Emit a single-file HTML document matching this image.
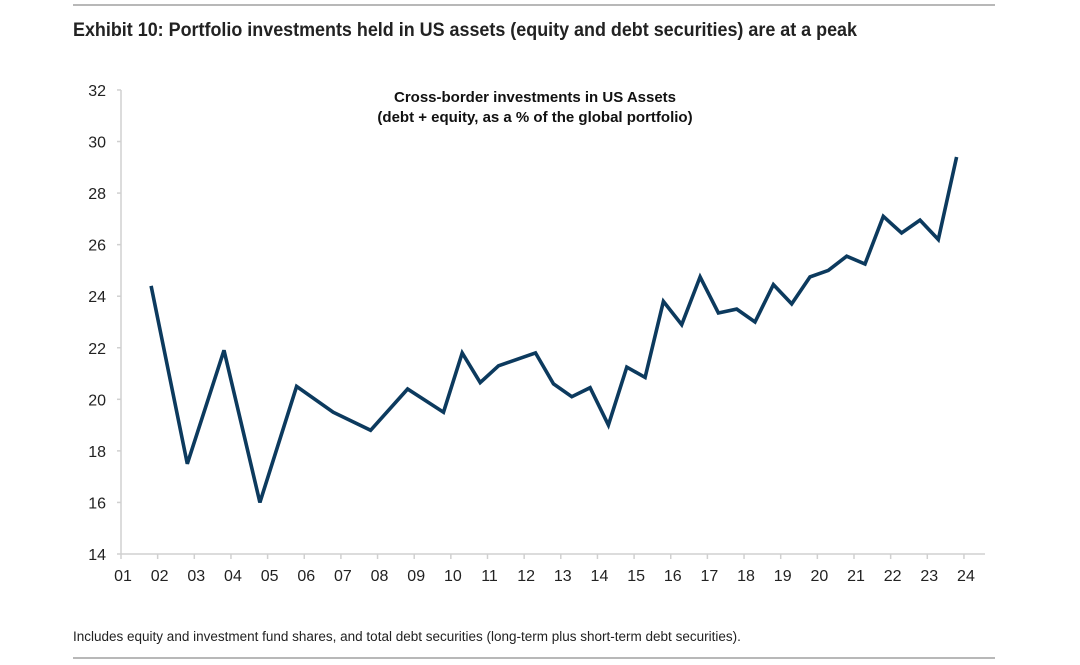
<!DOCTYPE html>
<html><head><meta charset="utf-8">
<style>
body{margin:0;width:1080px;height:660px;background:#fff;overflow:hidden;font-family:"Liberation Sans",sans-serif;}
</style></head>
<body>
<svg width="1080" height="660" viewBox="0 0 1080 660">
<line x1="73" y1="5" x2="995" y2="5" stroke="#b8b8b8" stroke-width="2"/>
<text x="73" y="36" textLength="784" lengthAdjust="spacingAndGlyphs" font-family="'Liberation Sans Narrow','Liberation Sans',sans-serif" font-weight="bold" font-size="19.5" fill="#222">Exhibit 10: Portfolio investments held in US assets (equity and debt securities) are at a peak</text>
<text x="535" y="102" text-anchor="middle" font-weight="bold" font-size="15" fill="#111">Cross-border investments in US Assets</text>
<text x="535" y="122" text-anchor="middle" font-weight="bold" font-size="15" fill="#111">(debt + equity, as a % of the global portfolio)</text>
<g id="axes"></g>
<g id="series"></g>
<text x="73" y="641" font-family="'Liberation Sans Narrow','Liberation Sans',sans-serif" font-size="13.5" fill="#222">Includes equity and investment fund shares, and total debt securities (long-term plus short-term debt securities).</text>
<line x1="73" y1="658" x2="995" y2="658" stroke="#b8b8b8" stroke-width="2"/>
</svg>
<script>
const years = [2001.82,2002.81,2003.81,2004.79,2005.79,2006.79,2007.81,2008.82,2009.8,2010.31,2010.8,2011.3,2011.8,2012.31,2012.8,2013.3,2013.8,2014.3,2014.8,2015.3,2015.8,2016.3,2016.8,2017.3,2017.8,2018.3,2018.8,2019.3,2019.8,2020.3,2020.8,2021.3,2021.8,2022.3,2022.8,2023.3,2023.8];
const values = [24.4,17.5,21.9,16.0,20.5,19.5,18.8,20.4,19.5,21.8,20.65,21.3,21.55,21.8,20.6,20.1,20.45,19.0,21.25,20.85,23.8,22.9,24.75,23.35,23.5,23.0,24.45,23.7,24.75,25.0,25.55,25.25,27.1,26.45,26.95,26.2,29.4];
const yTicks = [14,16,18,20,22,24,26,28,30,32];
const xTickLabels = ["01","02","03","04","05","06","07","08","09","10","11","12","13","14","15","16","17","18","19","20","21","22","23","24"];

const NS="http://www.w3.org/2000/svg";
const X0=121, XW=36.65, Y0=554, YU=25.78;
function xs(t){return X0+(t-2001)*XW;}
function ys(v){return Y0-(v-14)*YU;}
function mk(tag,attrs,parent){const e=document.createElementNS(NS,tag);for(const k in attrs)e.setAttribute(k,attrs[k]);parent.appendChild(e);return e;}
const ax=document.getElementById('axes');
let l=mk('line',{x1:X0,y1:ys(32),x2:X0,y2:Y0,stroke:'#d0d0d0','stroke-width':1.5},ax);


l=mk('line',{x1:X0,y1:Y0,x2:985,y2:Y0,stroke:'#d0d0d0','stroke-width':1.5},ax);


yTicks.forEach(v=>{
  const tk=mk('line',{x1:X0-4,x2:X0,y1:ys(v),y2:ys(v),stroke:'#d0d0d0','stroke-width':1.5},ax);
  
  
  const t=mk('text',{x:106,y:ys(v)+6,'text-anchor':'end','font-size':16,fill:'#222'},ax);
  t.textContent=v;
  
  
});
xTickLabels.forEach((lab,i)=>{
  const x=xs(2001+i);
  const tk=mk('line',{x1:x,x2:x,y1:Y0,y2:Y0+5,stroke:'#d0d0d0','stroke-width':1.5},ax);
  
  
  const t=mk('text',{x:x+2,y:Y0+27,'text-anchor':'middle','font-size':16,fill:'#222'},ax);
  t.textContent=lab;
  
  
});
const d=years.map((t,i)=>(i?'L':'M')+xs(t).toFixed(1)+','+ys(values[i]).toFixed(1)).join(' ');
const p=mk('path',{d:d,fill:'none',stroke:'#0c3a5e','stroke-width':3.6,'stroke-linejoin':'miter','stroke-miterlimit':3},document.getElementById('series'));


</script>
</body></html>
